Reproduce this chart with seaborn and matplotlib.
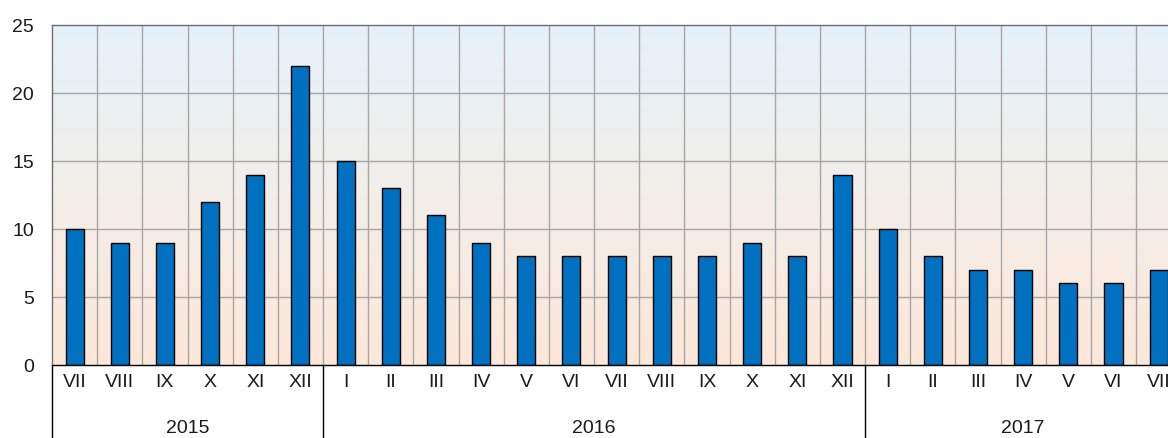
import numpy as np
import pandas as pd
import seaborn as sns
import matplotlib.pyplot as plt
from matplotlib.colors import LinearSegmentedColormap

# data
months = ["VII", "VIII", "IX", "X", "XI", "XII",
          "I", "II", "III", "IV", "V", "VI", "VII", "VIII", "IX", "X", "XI", "XII",
          "I", "II", "III", "IV", "V", "VI", "VII"]
years = ["2015"] * 6 + ["2016"] * 12 + ["2017"] * 7
values = [10, 9, 9, 12, 14, 22,
          15, 13, 11, 9, 8, 8, 8, 8, 8, 9, 8, 14,
          10, 8, 7, 7, 6, 6, 7]

df = pd.DataFrame({
    "key": [f"{y}-{m}" for y, m in zip(years, months)],
    "month": months,
    "year": years,
    "value": values,
})

sns.set_style("white")
plt.rcParams["font.family"] = ["Liberation Sans", "DejaVu Sans"]

W, H = 1168, 439
fig = plt.figure(figsize=(W / 100, H / 100), dpi=100)
left, top, bottom = 52, 26, 366
cat_w = 45.17
n = len(values)
ax = fig.add_axes([left / W, (H - bottom) / H, n * cat_w / W, (bottom - top) / H])

# gradient background
cmap = LinearSegmentedColormap.from_list("bg", ["#fde7d8", "#f3eee9", "#e5f2fa"])
grad = np.linspace(0, 1, 256).reshape(-1, 1)
ax.imshow(grad, cmap=cmap, aspect="auto", origin="lower",
          extent=(-0.5, n - 0.5, 0, 25), zorder=0)

sns.barplot(data=df, x="key", y="value", color="#0070c0", width=0.4,
            edgecolor="black", linewidth=1, saturation=1, ax=ax, zorder=3)

ax.set_xlim(-0.5, n - 0.5)
ax.set_ylim(0, 25)
ax.set_yticks([0, 5, 10, 15, 20, 25])
ax.set_xticks(range(n))
ax.set_xticklabels(df["month"])
ax.tick_params(axis="both", length=0, labelsize=14, colors="#1a1a1a")
ax.tick_params(axis="y", pad=13)
ax.tick_params(axis="x", pad=6)
ax.set_xlabel("")
ax.set_ylabel("")

# grid
for i in range(1, n):
    ax.axvline(i - 0.5, color="#a6a6a6", lw=1, zorder=1)
for yv in [5, 10, 15, 20]:
    ax.axhline(yv, color="#a6a6a6", lw=1, zorder=1)

for s in ["left", "top"]:
    ax.spines[s].set_color("#6e6e6e")
    ax.spines[s].set_linewidth(1)
ax.spines["right"].set_visible(False)
ax.spines["bottom"].set_color("black")
ax.spines["bottom"].set_linewidth(1)
ax.spines["bottom"].set_zorder(5)

# year grouping below the axis
drop = -(H - bottom) / (bottom - top)
trans = ax.get_xaxis_transform()
bounds = [-0.5, 5.5, 17.5]
for b in bounds:
    ax.plot([b, b], [0, drop], color="black", lw=1, transform=trans, clip_on=False)
starts = [0, 6, 18]
ends = [6, 18, 25]
for y, s, e in zip(["2015", "2016", "2017"], starts, ends):
    ax.text((s + e - 1) / 2, -0.183, y, transform=trans, ha="center", va="center",
            fontsize=14, color="#1a1a1a")

fig.savefig("out.png", dpi=100)
